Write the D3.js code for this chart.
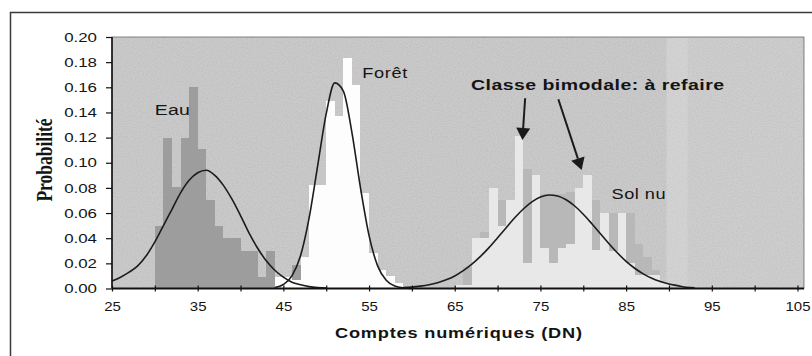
<!DOCTYPE html>
<html>
<head>
<meta charset="utf-8">
<script src="https://cdn.jsdelivr.net/npm/d3@7"></script>
<style>
body { margin: 0; background: #fff; }
svg { display: block; }
text { font-family: "Liberation Sans", Arial, sans-serif; fill: #141414; }
</style>
</head>
<body>
<script>
// histogrammes : classes de 1 DN (valeur = debut de la classe), probabilites
const eauDN = [30, 31, 32, 33, 34, 35, 36, 37, 38, 39, 40, 41, 42, 43, 44, 45, 46];
const eauP = [0.050, 0.120, 0.081, 0.120, 0.160, 0.111, 0.070, 0.050, 0.040, 0.040, 0.030, 0.030, 0.009, 0.030, 0.008, 0.003, 0.019];

const foretDN = [44, 45, 46, 47, 48, 49, 50, 51, 52, 53, 54, 55, 56, 57, 58];
const foretP = [0.009, 0.009, 0.007, 0.025, 0.082, 0.082, 0.149, 0.137, 0.183, 0.162, 0.076, 0.028, 0.015, 0.010, 0.004];

// sol nu : deux couches (gris moyen derriere, clair devant)
const solFondDN = [66, 67, 68, 69, 70, 71, 72, 73, 74, 75, 76, 77, 78, 79, 80, 81, 82, 83, 84, 85, 86, 87, 88];
const solFondP = [0.017, 0.040, 0.045, 0.060, 0.070, 0.070, 0.080, 0.095, 0.080, 0.075, 0.075, 0.075, 0.077, 0.075, 0.075, 0.070, 0.060, 0.060, 0.060, 0.060, 0.035, 0.025, 0.015];

const solDN = [65, 66, 67, 68, 69, 70, 71, 72, 73, 74, 75, 76, 77, 78, 79, 80, 81, 82, 83, 84, 85, 86, 87, 88, 89];
const solP = [0.003, 0.003, 0.040, 0.040, 0.080, 0.050, 0.070, 0.121, 0.020, 0.090, 0.032, 0.020, 0.032, 0.035, 0.080, 0.090, 0.031, 0.060, 0.030, 0.060, 0.020, 0.011, 0.011, 0.011, 0.004];

// courbes ajustees (lecture point par point)
const courbeEauDN = [25, 26, 27, 28, 29, 30, 31, 32, 33, 34, 35, 36, 37, 38, 39, 40, 41, 42, 43, 44, 45, 46, 47, 48, 49, 50];
const courbeEauP = [0.006, 0.009, 0.013, 0.018, 0.026, 0.037, 0.050, 0.063, 0.076, 0.086, 0.092, 0.094, 0.090, 0.082, 0.071, 0.058, 0.044, 0.032, 0.022, 0.0145, 0.009, 0.005, 0.003, 0.0015, 0.0007, 0.0003];

const courbeForetDN = [44, 45, 46, 47, 48, 49, 50, 51, 52, 53, 54, 55, 56, 57, 58, 59, 60];
const courbeForetP = [0.0008, 0.0032, 0.010, 0.026, 0.056, 0.0975, 0.139, 0.1635, 0.157, 0.124, 0.080, 0.042, 0.018, 0.0065, 0.0019, 0.0005, 0.0001];

const courbeSolDN = [59, 60, 61, 62, 63, 64, 65, 66, 67, 68, 69, 70, 71, 72, 73, 74, 75, 76, 77, 78, 79, 80, 81, 82, 83, 84, 85, 86, 87, 88, 89, 90, 91, 92, 93];
const courbeSolP = [0.0007, 0.0011, 0.0019, 0.003, 0.0046, 0.0069, 0.010, 0.0142, 0.0193, 0.0255, 0.0325, 0.0403, 0.0483, 0.0562, 0.0632, 0.0689, 0.0727, 0.0744, 0.0736, 0.0706, 0.0656, 0.0591, 0.0515, 0.0435, 0.0356, 0.0282, 0.0216, 0.0161, 0.0116, 0.0081, 0.0055, 0.0036, 0.0023, 0.001, 0.0005];

const xTicks = [25, 30, 35, 40, 45, 50, 55, 60, 65, 70, 75, 80, 85, 90, 95, 100, 105];
const yTicks = [0, 0.02, 0.04, 0.06, 0.08, 0.10, 0.12, 0.14, 0.16, 0.18, 0.20];

const width = 812, height = 356;
const plot = { left: 112, right: 797.5, top: 37, bottom: 288.5, pad: 6.5 };
const stretch = 1.3; // le scan est etire horizontalement

const svg = d3.select('body').append('svg')
    .attr('width', width)
    .attr('height', height);

// grain du scan
const defs = svg.append('defs');
const grain = defs.append('filter').attr('id', 'grain')
    .attr('x', 0).attr('y', 0).attr('width', 1).attr('height', 1);
grain.append('feTurbulence')
    .attr('type', 'fractalNoise').attr('baseFrequency', 0.8)
    .attr('numOctaves', 1).attr('seed', 3).attr('result', 'bruit');
grain.append('feColorMatrix')
    .attr('in', 'bruit').attr('type', 'matrix')
    .attr('values', '0 0 0 0 0  0 0 0 0 0  0 0 0 0 0  0 0 0 0.9 -0.35');
grain.append('feComposite').attr('in2', 'SourceGraphic').attr('operator', 'in');

const x = d3.scaleLinear().domain([25, 105]).range([plot.left, plot.right]);
const y = d3.scaleLinear().domain([0, 0.2]).range([plot.bottom, plot.top]);

// cadre exterieur
svg.append('rect')
    .attr('x', 10.5).attr('y', 12.5)
    .attr('width', 900).attr('height', 400)
    .attr('fill', 'none').attr('stroke', '#3a3a3a').attr('stroke-width', 1.5);

const chart = svg.append('g');

// fond de la zone de trace
chart.append('rect')
    .attr('x', plot.left).attr('y', plot.top)
    .attr('width', plot.right + plot.pad - plot.left)
    .attr('height', plot.bottom - plot.top)
    .attr('fill', '#cacaca')
    .attr('stroke', '#6a6a6a').attr('stroke-width', 0.8);

chart.append('rect')
    .attr('x', plot.left).attr('y', plot.top)
    .attr('width', plot.right + plot.pad - plot.left)
    .attr('height', plot.bottom - plot.top)
    .attr('fill', '#cacaca')
    .attr('filter', 'url(#grain)')
    .attr('opacity', 0.15);

// bandes plus claires du scan
chart.append('rect')
    .attr('x', x(89.7)).attr('y', plot.top + 1)
    .attr('width', x(92.2) - x(89.7)).attr('height', plot.bottom - plot.top - 1)
    .attr('fill', '#fff').attr('opacity', 0.18);
chart.append('rect')
    .attr('x', x(92.2)).attr('y', plot.top + 1)
    .attr('width', plot.right + plot.pad - 1 - x(92.2)).attr('height', plot.bottom - plot.top - 1)
    .attr('fill', '#fff').attr('opacity', 0.08);

function barres(dn, p, couleur) {
    chart.append('g')
        .attr('shape-rendering', 'crispEdges')
        .selectAll('rect')
        .data(dn)
        .join('rect')
        .attr('x', d => x(d))
        .attr('width', d => x(d + 1) - x(d))
        .attr('y', (d, i) => y(p[i]))
        .attr('height', (d, i) => y(0) - y(p[i]))
        .attr('fill', couleur);
}

barres(eauDN, eauP, '#9d9d9d');
barres(solFondDN, solFondP, '#b8b8b8');
barres(solDN, solP, '#e8e8e8');
barres(foretDN, foretP, '#fdfdfd');

// courbes
const line = d3.line().curve(d3.curveMonotoneX);
function courbe(dn, p) {
    chart.append('path')
        .attr('d', line(dn.map((d, i) => [x(d), y(p[i])])))
        .attr('fill', 'none')
        .attr('stroke', '#1c1c1c')
        .attr('stroke-width', 1.6);
}
courbe(courbeEauDN, courbeEauP);
courbe(courbeForetDN, courbeForetP);
courbe(courbeSolDN, courbeSolP);

// axe x
const xAxis = d3.axisBottom(x)
    .tickValues(xTicks)
    .tickSizeOuter(0)
    .tickFormat(d => (d - 25) % 10 === 0 ? d : '');

const gx = svg.append('g')
    .attr('transform', `translate(0,${plot.bottom})`)
    .call(xAxis);
gx.select('.domain').remove();
gx.selectAll('.tick line').attr('y1', -3).attr('y2', 3).attr('stroke', '#111').attr('stroke-width', 1.2);
gx.selectAll('.tick text')
    .attr('y', 23).attr('dy', 0)
    .attr('transform', 'scale(1.2,1)')
    .style('font-size', '12.5px')
    .style('fill', '#141414');

svg.append('line')
    .attr('x1', plot.left).attr('x2', plot.right + plot.pad)
    .attr('y1', plot.bottom).attr('y2', plot.bottom)
    .attr('stroke', '#111').attr('stroke-width', 1.8);

// axe y
const yAxis = d3.axisLeft(y)
    .tickValues(yTicks)
    .tickSize(6)
    .tickSizeOuter(0)
    .tickFormat(d3.format('.2f'));

const gy = svg.append('g')
    .attr('transform', `translate(${plot.left},0)`)
    .call(yAxis);
gy.select('.domain').remove();
gy.selectAll('.tick line').attr('stroke', '#111').attr('stroke-width', 1.2);
gy.selectAll('.tick text')
    .attr('x', -15 / stretch)
    .attr('transform', `scale(${stretch},1)`)
    .style('font-size', '13px')
    .style('fill', '#141414');

svg.append('line')
    .attr('x1', plot.left).attr('x2', plot.left)
    .attr('y1', plot.top).attr('y2', plot.bottom)
    .attr('stroke', '#111').attr('stroke-width', 1.6);

// titres d'axes
svg.append('text')
    .attr('transform', `translate(${(335 + 582) / 2},338) scale(${stretch},1)`)
    .attr('text-anchor', 'middle')
    .attr('textLength', 247 / stretch)
    .attr('lengthAdjust', 'spacing')
    .style('font-size', '14px')
    .style('font-weight', 700)
    .text('Comptes numériques (DN)');

svg.append('text')
    .attr('transform', `translate(52,160) scale(${stretch},1) rotate(-90)`)
    .attr('text-anchor', 'middle')
    .style('font-family', '"Liberation Serif", "Times New Roman", serif')
    .style('font-size', '17.5px')
    .style('font-weight', 700)
    .text('Probabilité');

// etiquettes (position en coordonnees des donnees)
const etiquettes = [
    { texte: 'Eau', dn: 30.0, p: 0.138, taille: 15, gras: false, largeur: 35 },
    { texte: 'Forêt', dn: 54.2, p: 0.1675, taille: 14, gras: false, largeur: 45 },
    { texte: 'Classe bimodale: à refaire', dn: 66.9, p: 0.1575, taille: 15, gras: true, largeur: 253 },
    { texte: 'Sol nu', dn: 83.3, p: 0.0712, taille: 14, gras: false, largeur: 54 }
];

etiquettes.forEach(e => {
    svg.append('text')
        .attr('transform', `translate(${x(e.dn)},${y(e.p)}) scale(${stretch},1)`)
        .attr('textLength', e.largeur / stretch)
        .attr('lengthAdjust', 'spacing')
        .style('font-size', e.taille + 'px')
        .style('font-weight', e.gras ? 700 : 400)
        .text(e.texte);
});

// fleches vers les deux modes
const fleches = [
    { de: [73.21, 0.1513], vers: [72.9, 0.1181] },
    { de: [77.09, 0.1505], vers: [79.81, 0.0942] }
];

fleches.forEach(f => {
    const x1 = x(f.de[0]), y1 = y(f.de[1]);
    const x2 = x(f.vers[0]), y2 = y(f.vers[1]);
    const a = Math.atan2(y2 - y1, x2 - x1);
    const len = 12, half = 7;
    const bx = x2 - len * Math.cos(a), by = y2 - len * Math.sin(a);
    svg.append('line')
        .attr('x1', x1).attr('y1', y1)
        .attr('x2', bx).attr('y2', by)
        .attr('stroke', '#1a1a1a').attr('stroke-width', 2);
    const pts = [
        [x2, y2],
        [bx + half * Math.sin(a), by - half * Math.cos(a)],
        [bx - half * Math.sin(a), by + half * Math.cos(a)]
    ];
    svg.append('polygon')
        .attr('points', pts.map(p => p.join(',')).join(' '))
        .attr('fill', '#1a1a1a');
});
</script>
</body>
</html>
